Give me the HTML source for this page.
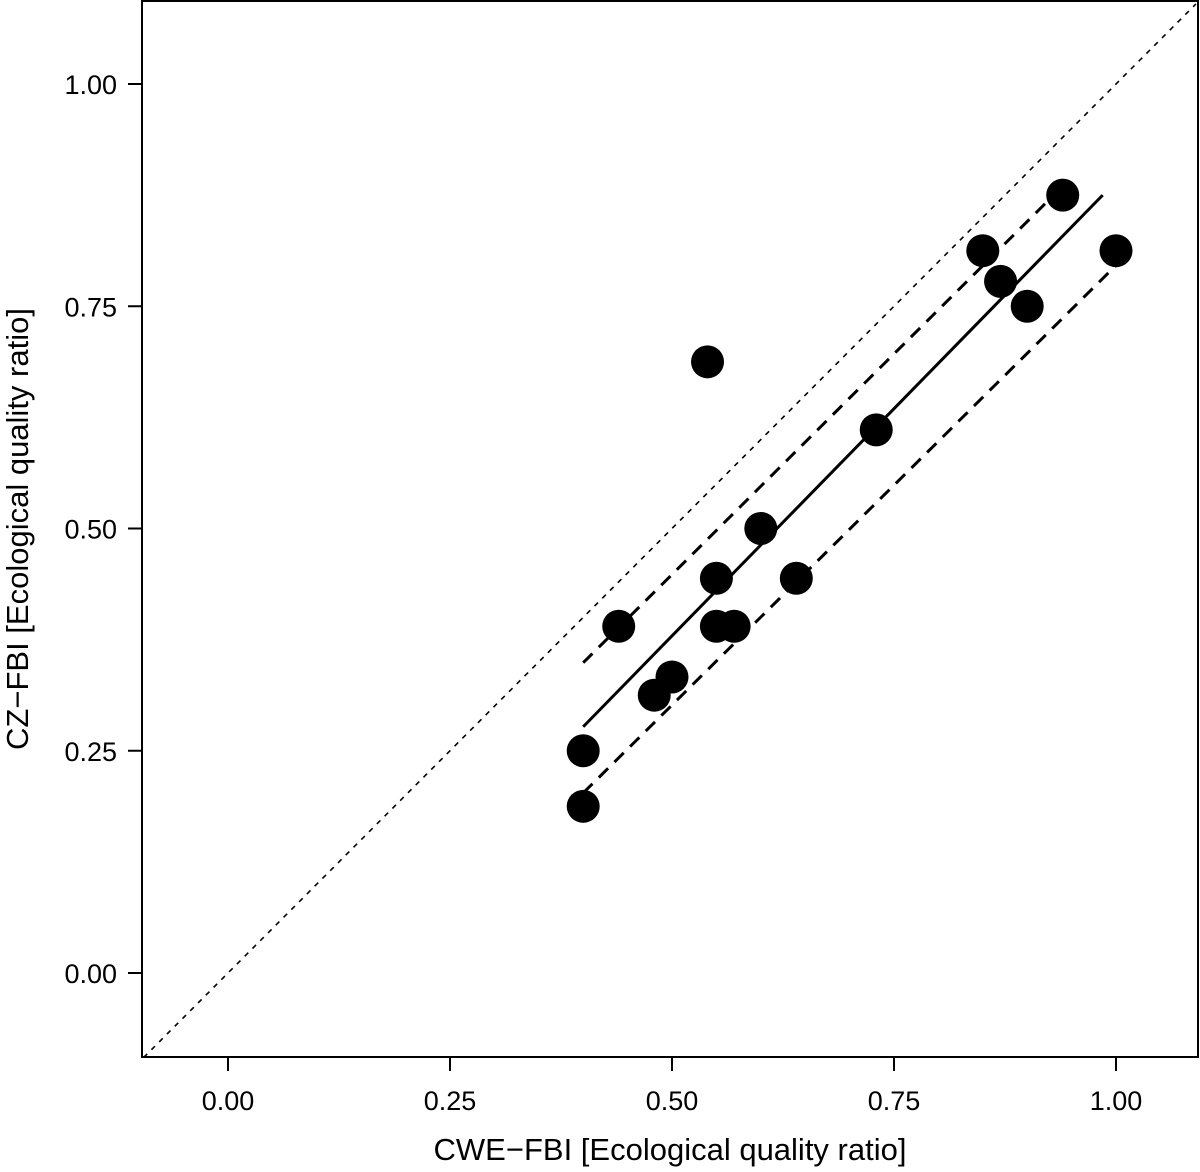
<!DOCTYPE html>
<html><head><meta charset="utf-8"><style>
html,body{margin:0;padding:0;background:#fff}
svg{display:block;font-family:"Liberation Sans","DejaVu Sans",sans-serif}
</style></head><body>
<svg id="chart" width="1200" height="1172" viewBox="0 0 1200 1172">
<rect x="142" y="1" width="1056" height="1056" fill="none" stroke="#000" stroke-width="2"/>
<g id="axes"></g>
<g id="marks"></g>
<text x="670" y="1160" font-size="31" text-anchor="middle">CWE−FBI [Ecological quality ratio]</text>
<text transform="translate(28,529) rotate(-90)" font-size="31" text-anchor="middle">CZ−FBI [Ecological quality ratio]</text>
</svg>
<script>
const xTicks=[0,0.25,0.5,0.75,1];
const yTicks=[0,0.25,0.5,0.75,1];
const tickLabels=["0.00","0.25","0.50","0.75","1.00"];
const xValues=[0.40,0.40,0.44,0.48,0.50,0.54,0.55,0.55,0.57,0.60,0.64,0.73,0.85,0.87,0.90,0.94,1.00];
const yValues=[0.25,0.1875,0.39,0.3125,0.333,0.6875,0.444,0.39,0.39,0.50,0.444,0.611,0.8125,0.778,0.75,0.875,0.8125];
const fitX=[0.40,0.985];
const fitY=[0.277,0.875];
const upperX=[0.40,0.94];
const upperY=[0.349,0.885];
const lowerX=[0.40,1.00];
const lowerY=[0.2025,0.796];
const sx=v=>228+v*888;
const sy=v=>973-v*889;
const NS="http://www.w3.org/2000/svg";
const axes=document.getElementById('axes'),marks=document.getElementById('marks');
function mk(tag,attrs,parent){const e=document.createElementNS(NS,tag);for(const k in attrs)e.setAttribute(k,attrs[k]);parent.appendChild(e);return e;}
xTicks.forEach((t,i)=>{
 const l=mk('line',{x1:sx(t),x2:sx(t),y1:1057,y2:1071,stroke:'#000','stroke-width':2},axes);
 
 
 const tx=mk('text',{x:sx(t),y:1110,'font-size':27,'text-anchor':'middle'},axes);
 tx.textContent=tickLabels[i];
 
 
});
yTicks.forEach((t,i)=>{
 const l=mk('line',{x1:128,x2:142,y1:sy(t),y2:sy(t),stroke:'#000','stroke-width':2},axes);
 
 
 const tx=mk('text',{x:117,y:sy(t)+10,'font-size':27,'text-anchor':'end'},axes);
 tx.textContent=tickLabels[i];
 
 
});
// 1:1 line clipped to frame
const one=mk('line',{x1:sx(-0.095),y1:sy(-0.095),x2:sx(1.09),y2:sy(1.09),stroke:'#000','stroke-width':1.6,'stroke-dasharray':'5,6'},marks);


const fit=mk('line',{x1:sx(fitX[0]),y1:sy(fitY[0]),x2:sx(fitX[1]),y2:sy(fitY[1]),stroke:'#000','stroke-width':3},marks);


const up=mk('line',{x1:sx(upperX[0]),y1:sy(upperY[0]),x2:sx(upperX[1]),y2:sy(upperY[1]),stroke:'#000','stroke-width':3,'stroke-dasharray':'13,9'},marks);


const lo=mk('line',{x1:sx(lowerX[0]),y1:sy(lowerY[0]),x2:sx(lowerX[1]),y2:sy(lowerY[1]),stroke:'#000','stroke-width':3,'stroke-dasharray':'13,9'},marks);


xValues.forEach((x,i)=>{
 const c=mk('circle',{cx:sx(x),cy:sy(yValues[i]),r:16.5,fill:'#000'},marks);
 
 
});
</script>
</body></html>
